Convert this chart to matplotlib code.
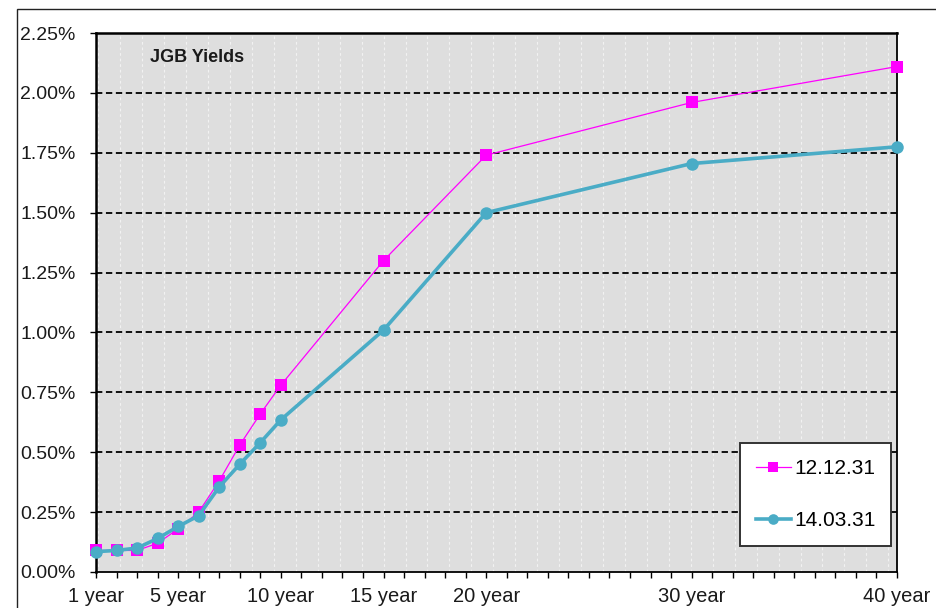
import numpy as np
import matplotlib
matplotlib.use("Agg")
import matplotlib.pyplot as plt
from matplotlib.patches import Rectangle
from matplotlib.ticker import FixedLocator, FuncFormatter

plt.rcParams['font.family'] = ['Liberation Sans', 'DejaVu Sans']

# Maturities (years) and yields (%)
maturities = [1, 2, 3, 4, 5, 6, 7, 8, 9, 10, 15, 20, 30, 40]
yields_121231 = [0.09, 0.09, 0.09, 0.12, 0.18, 0.25, 0.38, 0.53, 0.66, 0.78, 1.30, 1.74, 1.96, 2.11]
yields_140331 = [0.085, 0.09, 0.10, 0.14, 0.19, 0.235, 0.355, 0.45, 0.54, 0.635, 1.01, 1.50, 1.705, 1.775]
series_labels = ["12.12.31", "14.03.31"]
labeled_years = [1, 5, 10, 15, 20, 30, 40]
y_ticks = [0.0, 0.25, 0.5, 0.75, 1.0, 1.25, 1.5, 1.75, 2.0, 2.25]

W, H = 936, 608
fig = plt.figure(figsize=(W / 100, H / 100), dpi=100)
ax = fig.add_axes([96 / W, (H - 572) / H, (897 - 96) / W, (572 - 33) / H])

# Outer chart-area border
fig.patches.append(Rectangle((17 / W, -0.02), 1.0, (H - 9) / H + 0.02,
                             transform=fig.transFigure, fill=False,
                             edgecolor='#222222', linewidth=1.0, zorder=0))

ax.set_facecolor('#dedede')
ax.set_xlim(1, 40)
ax.set_ylim(0, 2.25)

# Light vertical pattern lines across the plot area
for xf in np.linspace((98.3 - 96) / 801, (888.3 - 96) / 801, 37):
    ax.plot([xf, xf], [0, 1], transform=ax.transAxes, color='#f2f2f2',
            lw=0.8, ls=(0, (2.5, 2.5)), zorder=1)

# Horizontal dashed gridlines
for yv in y_ticks[1:-1]:
    ax.axhline(yv, color='black', lw=1.3, ls=(0, (3.5, 2.0)), zorder=2)

ax.plot(maturities, yields_121231, color='#ff00ff', lw=0.9, marker='s',
        markersize=9.3, markeredgewidth=0, label=series_labels[0], zorder=4,
        clip_on=False)
ax.plot(maturities, yields_140331, color='#4aacc6', lw=2.6, marker='o',
        markersize=9, markeredgewidth=0, label=series_labels[1], zorder=5,
        clip_on=False)

# Axes styling
for side in ['left', 'top', 'right', 'bottom']:
    ax.spines[side].set_color('black')
ax.spines['left'].set_linewidth(1.8)
ax.spines['top'].set_linewidth(1.8)
ax.spines['right'].set_linewidth(1.3)
ax.spines['bottom'].set_linewidth(1.3)

ax.xaxis.set_major_locator(FixedLocator(list(range(1, 41))))
ax.xaxis.set_major_formatter(FuncFormatter(
    lambda v, p: f"{int(round(v))} year" if int(round(v)) in labeled_years else ""))
ax.set_yticks(y_ticks)
ax.yaxis.set_major_formatter(FuncFormatter(lambda v, p: f"{v:.2f}%"))

ax.tick_params(axis='x', direction='out', length=4.5, width=1.0, color='black',
               labelsize=14.5, pad=6)
ax.tick_params(axis='y', direction='out', length=4.5, width=1.0, color='black',
               labelsize=14, pad=10)
for lbl in ax.get_xticklabels() + ax.get_yticklabels():
    lbl.set_color('#1a1a1a')

fig.text(150 / W, (H - 57) / H, "JGB Yields", fontsize=13, fontweight='bold',
         color='#1a1a1a', va='center', ha='left', zorder=6)

leg = ax.legend(loc='lower left',
                bbox_to_anchor=((740 - 96) / 801, (572 - 546) / 539),
                fontsize=15, frameon=True, fancybox=False, shadow=False,
                borderpad=0.75, labelspacing=1.6, handlelength=1.7,
                handletextpad=0.15, borderaxespad=0, markerscale=0.85)
leg.get_frame().set_edgecolor('#333333')
leg.get_frame().set_linewidth(1.4)
leg.get_frame().set_facecolor('white')
leg.get_frame().set_alpha(1)
leg.set_zorder(10)

fig.savefig("out.png", dpi=100)
